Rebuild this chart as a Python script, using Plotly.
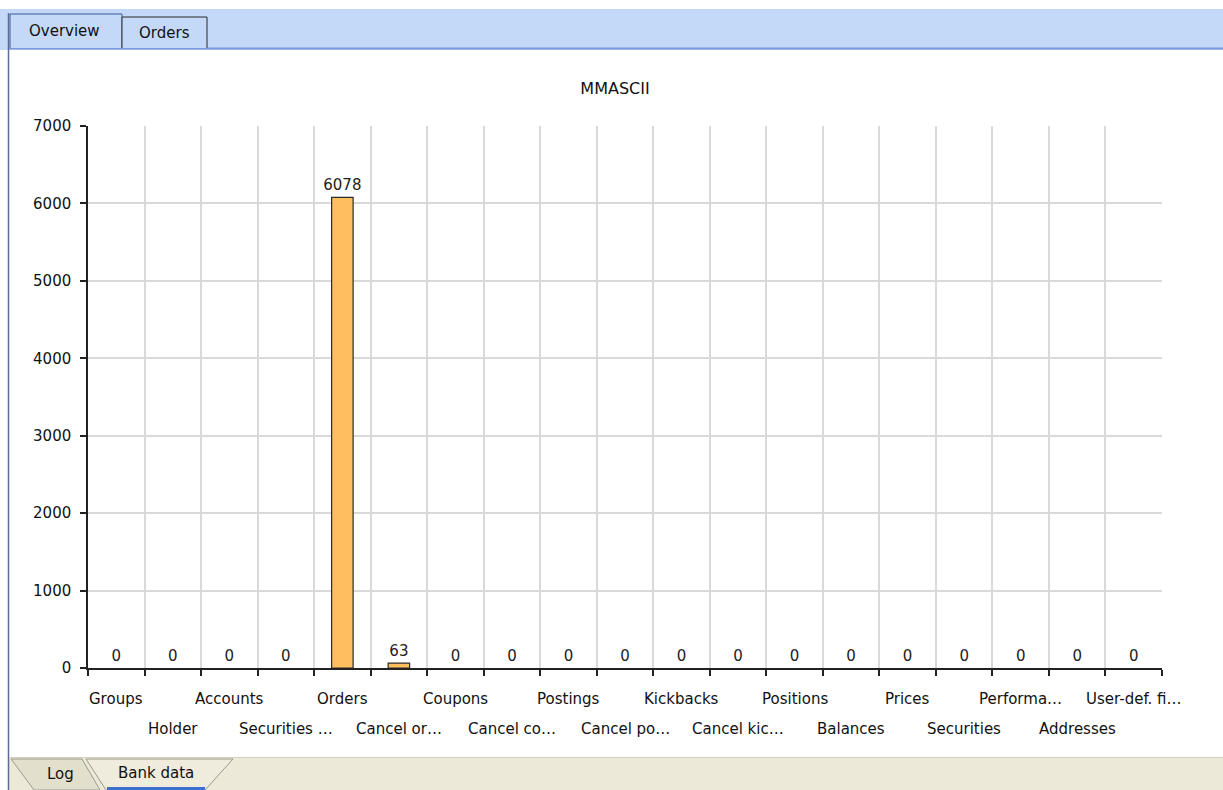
import plotly.graph_objects as go

# Record counts per bank data table
categories = [
    "Groups", "Holder", "Accounts", "Securities …", "Orders", "Cancel or…",
    "Coupons", "Cancel co…", "Postings", "Cancel po…", "Kickbacks",
    "Cancel kic…", "Positions", "Balances", "Prices", "Securities",
    "Performa…", "Addresses", "User-def. fi…",
]
counts = [0, 0, 0, 0, 6078, 63, 0, 0, 0, 0, 0, 0, 0, 0, 0, 0, 0, 0, 0]
y_ticks = [0, 1000, 2000, 3000, 4000, 5000, 6000, 7000]

W, H = 1223, 790
L, R, T, B = 88, 1162, 126, 668
FONT = "DejaVu Sans"
FS = 15
TXT = "#111111"


def px(x):
    return (x - L) / (R - L)


def py(y):
    return (B - y) / (B - T)


fig = go.Figure()
fig.add_trace(go.Bar(
    x=categories, y=counts,
    width=0.38,
    marker=dict(color="#FFBF5E",
                line=dict(color="#2b2b2b", width=[1.2 if v > 0 else 0 for v in counts])),
    text=[str(v) for v in counts], textposition="outside",
    textfont=dict(family=FONT, size=FS, color="#222222"),
    constraintext="none",
    cliponaxis=False,
))

shapes = []
# top tab strip
shapes.append(dict(type="rect", xref="paper", yref="paper", x0=px(0), x1=px(W),
                   y0=py(9), y1=py(50), fillcolor="#C3D9F7", line_width=0, layer="below"))
shapes.append(dict(type="line", xref="paper", yref="paper", x0=px(8), x1=px(W),
                   y0=py(48.5), y1=py(48.5), line=dict(color="#7B98DC", width=2)))
# Overview tab (selected)
shapes.append(dict(type="path", xref="paper", yref="paper",
                   path=f"M {px(10)},{py(48)} L {px(10)},{py(14)} L {px(122)},{py(14)} L {px(122)},{py(48)}",
                   line=dict(color="#3A5A9A", width=1), fillcolor="#C3D9F7"))
# Orders tab
shapes.append(dict(type="path", xref="paper", yref="paper",
                   path=f"M {px(122)},{py(48)} L {px(122)},{py(17)} L {px(207)},{py(17)} L {px(207)},{py(48)}",
                   line=dict(color="#2a2a2a", width=1), fillcolor="#C3D9F7"))
# left window border
shapes.append(dict(type="line", xref="paper", yref="paper", x0=px(8.5), x1=px(8.5),
                   y0=py(13), y1=py(H), line=dict(color="#5C6E94", width=1.5)))
# bottom tab strip
shapes.append(dict(type="rect", xref="paper", yref="paper", x0=px(9), x1=px(W),
                   y0=py(757), y1=py(H), fillcolor="#ECE9D8", line_width=0, layer="below"))
shapes.append(dict(type="line", xref="paper", yref="paper", x0=px(9), x1=px(W),
                   y0=py(757.5), y1=py(757.5), line=dict(color="#D4D0C0", width=1)))
# Log tab
shapes.append(dict(type="path", xref="paper", yref="paper",
                   path=f"M {px(11)},{py(759)} L {px(82)},{py(759)} L {px(100)},{py(H)} L {px(34)},{py(H)} Z",
                   line=dict(color="#9C9A8E", width=1), fillcolor="#E2DFCD"))
# Bank data tab (active)
shapes.append(dict(type="path", xref="paper", yref="paper",
                   path=f"M {px(86)},{py(759)} L {px(233)},{py(759)} L {px(205)},{py(H)} L {px(106)},{py(H)} Z",
                   line=dict(color="#9C9A8E", width=1), fillcolor="#EFECDD"))
shapes.append(dict(type="line", xref="paper", yref="paper", x0=px(107), x1=px(205),
                   y0=py(788.5), y1=py(788.5), line=dict(color="#3C6FD0", width=3)))

label_font = dict(family=FONT, size=FS, color=TXT)
annotations = [
    dict(text="Overview", xref="paper", yref="paper", x=px(64), y=py(31),
         xanchor="center", yanchor="middle", showarrow=False, font=label_font),
    dict(text="Orders", xref="paper", yref="paper", x=px(164), y=py(33),
         xanchor="center", yanchor="middle", showarrow=False, font=label_font),
    dict(text="Log", xref="paper", yref="paper", x=px(60), y=py(774),
         xanchor="center", yanchor="middle", showarrow=False, font=label_font),
    dict(text="Bank data", xref="paper", yref="paper", x=px(156), y=py(773),
         xanchor="center", yanchor="middle", showarrow=False, font=label_font),
]
# staggered category labels
for i, c in enumerate(categories):
    annotations.append(dict(
        text=c, x=c, xref="x", yref="paper", y=0, xanchor="center", yanchor="middle",
        yshift=-31 if i % 2 == 0 else -61, showarrow=False, font=label_font,
    ))

fig.update_layout(
    width=W, height=H,
    margin=dict(l=L, r=W - R, t=T, b=H - B, pad=0),
    paper_bgcolor="white", plot_bgcolor="white",
    title=dict(text="MMASCII", x=615 / W, xanchor="center", y=1 - 88 / H, yanchor="middle",
               font=dict(family=FONT, size=FS + 1, color=TXT)),
    font=dict(family=FONT, size=FS, color=TXT),
    showlegend=False,
    xaxis=dict(
        type="category", tickson="boundaries", range=[-0.5, 18.5],
        showticklabels=False, ticks="outside", ticklen=6, tickcolor="#222222", tickwidth=1.5,
        showgrid=True, gridcolor="#D9D9D9", gridwidth=2,
        showline=True, linecolor="#222222", linewidth=1.5, zeroline=False,
    ),
    yaxis=dict(
        range=[0, 7000], tickvals=y_ticks, ticktext=[str(v) for v in y_ticks],
        ticks="outside", ticklen=6, tickcolor="#222222", tickwidth=1.5,
        showgrid=True, gridcolor="#D9D9D9", gridwidth=2,
        showline=True, linecolor="#222222", linewidth=1.5, zeroline=False,
        tickfont=dict(family=FONT, size=FS, color=TXT),
        ticklabelstandoff=6,
    ),
    shapes=shapes,
    annotations=annotations,
)

fig.write_html("out.html")
